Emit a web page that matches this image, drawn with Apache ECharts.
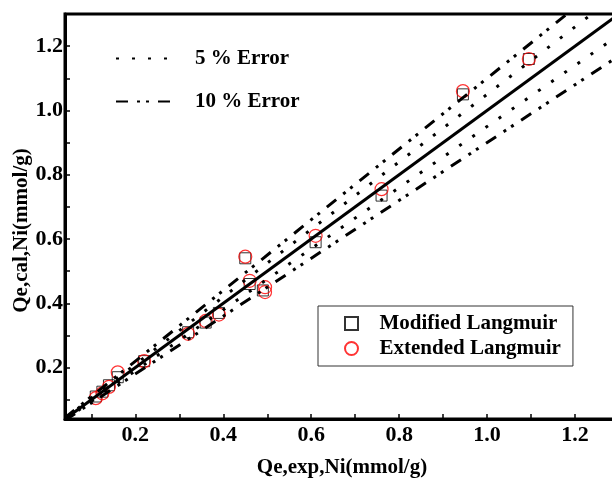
<!DOCTYPE html>
<html>
<head>
<meta charset="utf-8">
<script src="https://cdn.jsdelivr.net/npm/echarts@6/dist/echarts.min.js"></script>
<style>
  html, body { margin: 0; padding: 0; background: #fff; }
  #chart { width: 612px; height: 480px; }
</style>
</head>
<body>
<div id="chart"></div>
<script>
// experimental vs calculated uptake (mmol/g)
const modifiedPts = [
  [0.11, 0.11], [0.125, 0.125], [0.14, 0.145], [0.16, 0.17], [0.22, 0.22],
  [0.32, 0.31], [0.36, 0.34], [0.39, 0.37], [0.45, 0.54], [0.46, 0.46],
  [0.49, 0.44], [0.61, 0.59], [0.76, 0.735], [0.945, 1.05], [1.095, 1.16]
]
const extendedPts = [
  [0.11, 0.105], [0.125, 0.12], [0.14, 0.14], [0.16, 0.185], [0.22, 0.22],
  [0.32, 0.305], [0.36, 0.345], [0.39, 0.365], [0.45, 0.545], [0.46, 0.47],
  [0.495, 0.45], [0.495, 0.435], [0.61, 0.61], [0.76, 0.755], [0.945, 1.06], [1.095, 1.16]
]
const lineEnds = [0.04, 1.3]          // x range of the reference lines
const fivePct = [1.05, 0.95]
const tenPct = [1.1, 0.9]
const labelTicks = [0.2, 0.4, 0.6, 0.8, 1.0, 1.2]
const allTicks = [0.1, 0.2, 0.3, 0.4, 0.5, 0.6, 0.7, 0.8, 0.9, 1.0, 1.1, 1.2]

const font = "'Liberation Serif', 'Times New Roman', serif"
const line = (k) => lineEnds.map(x => [x, +(x * k).toFixed(4)])

const axisCommon = {
  type: 'value',
  min: 0.04,
  max: 1.3,
  nameLocation: 'middle',
  nameMoveOverlap: false,
  nameTextStyle: { fontFamily: font, fontWeight: 'bold', fontSize: 21, color: '#000' },
  axisLine: { show: true, lineStyle: { color: '#000', width: 3 } },
  axisTick: { show: true, inside: true, length: 5, customValues: allTicks, lineStyle: { color: '#000', width: 1.5 } },
  axisLabel: {
    customValues: labelTicks,
    fontFamily: font, fontWeight: 'bold', fontSize: 22, color: '#000',
    formatter: (v) => v.toFixed(1)
  },
  splitLine: { show: false }
}

const errSeries = (name, k, dash) => ({
  name,
  type: 'line',
  data: line(k),
  symbol: 'none',
  silent: true,
  itemStyle: { color: '#000' },
  lineStyle: { color: '#000', width: 3, type: dash }
})

const dotted = [3, 13]
const dashDot = [12, 9, 3, 6, 3, 9]
const squareIcon = 'path://M0,0H10V10H0Z'

const chart = echarts.init(document.getElementById('chart'))
chart.setOption({
  animation: false,
  grid: {
    left: 65, top: 14, bottom: 61, right: -7,
    outerBoundsMode: 'none',
    show: true, borderColor: '#000', borderWidth: 3, backgroundColor: 'transparent'
  },
  xAxis: Object.assign({}, axisCommon, {
    name: 'Qe,exp,Ni(mmol/g)',
    nameGap: 38,
    axisLabel: Object.assign({}, axisCommon.axisLabel, { margin: 5 })
  }),
  yAxis: Object.assign({}, axisCommon, {
    name: 'Qe,cal,Ni(mmol/g)',
    nameGap: 33,
    nameTextStyle: Object.assign({}, axisCommon.nameTextStyle, { padding: [0, 28, 0, 0] }),
    axisLabel: Object.assign({}, axisCommon.axisLabel, { margin: 2 })
  }),
  legend: [
    {
      data: ['5 % Error', '10 % Error'],
      orient: 'vertical',
      left: 110, top: 43,
      itemWidth: 55, itemHeight: 14, itemGap: 22,
      itemStyle: { opacity: 0 },
      textStyle: { fontFamily: font, fontWeight: 'bold', fontSize: 21, color: '#000', padding: [0, 0, 0, 19] }
    },
    {
      data: [
        { name: 'Modified Langmuir', icon: squareIcon },
        { name: 'Extended Langmuir', icon: 'circle' }
      ],
      orient: 'vertical',
      left: 318, top: 306,
      padding: [7, 12, 7, 26],
      itemWidth: 46, itemHeight: 13, itemGap: 4,
      borderColor: '#333', borderWidth: 1,
      textStyle: { fontFamily: font, fontWeight: 'bold', fontSize: 21, color: '#000' }
    }
  ],
  series: [
    { type: 'line', data: line(1), symbol: 'none', silent: true, lineStyle: { color: '#000', width: 3 } },
    errSeries('5 % Error', fivePct[0], dotted),
    errSeries('5 % Error', fivePct[1], dotted),
    errSeries('10 % Error', tenPct[0], dashDot),
    errSeries('10 % Error', tenPct[1], dashDot),
    {
      name: 'Modified Langmuir',
      type: 'scatter',
      data: modifiedPts,
      symbol: 'rect',
      symbolSize: 11,
      itemStyle: { color: 'rgba(255,255,255,0)', borderColor: '#000', borderWidth: 1 }
    },
    {
      name: 'Extended Langmuir',
      type: 'scatter',
      data: extendedPts,
      symbol: 'circle',
      symbolSize: 13,
      itemStyle: { color: 'rgba(255,255,255,0)', borderColor: '#ff0000', borderWidth: 1.2 }
    }
  ]
})
</script>
</body>
</html>
